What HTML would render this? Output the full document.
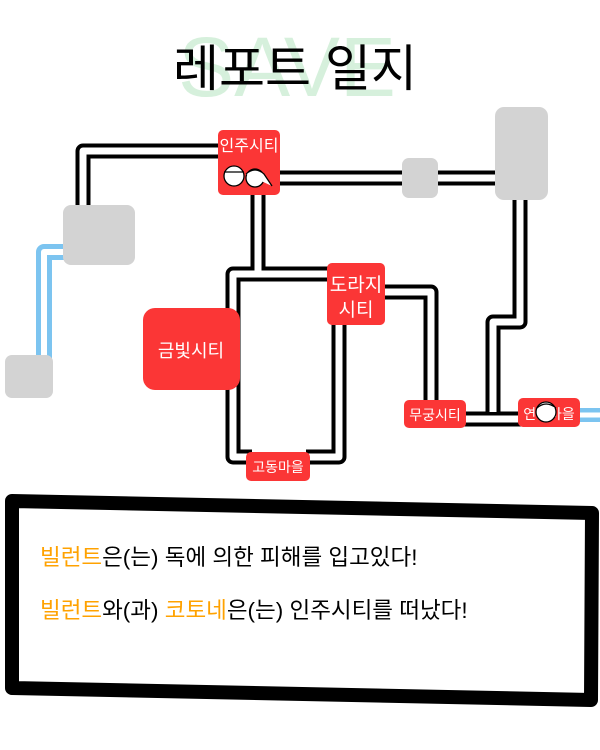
<!DOCTYPE html>
<html><head><meta charset="utf-8"><style>
html,body{margin:0;padding:0;background:#fff;width:600px;height:750px;overflow:hidden}
svg{display:block}
text{font-family:"Liberation Sans","Noto Sans CJK KR",sans-serif}
</style></head><body>
<svg width="600" height="750" viewBox="0 0 600 750" xmlns="http://www.w3.org/2000/svg">
<text x="287" y="96" font-size="84" fill="#d6f0dc" text-anchor="middle" font-family="Liberation Sans, sans-serif">SAVE</text>
<text x="295" y="86" font-size="50" fill="#000" text-anchor="middle">레포트 일지</text>

<g fill="none" stroke-linejoin="round" stroke-linecap="butt">
<path d="M66 252 H44 V360" stroke="#7cc4f0" stroke-width="16"/>
<path d="M66 252 H44 V360" stroke="#fff" stroke-width="6"/>
<path d="M575 415 H600" stroke="#7cc4f0" stroke-width="14"/>
<path d="M575 415 H600" stroke="#fff" stroke-width="5"/>
<g stroke="#000" stroke-width="15">
<path d="M83 212 V151 H222"/>
<path d="M275 178 H500"/>
<path d="M258 192 V274 H233 V457 H252"/>
<path d="M258 274 H332"/>
<path d="M380 292 H431 V402"/>
<path d="M339 322 V457 H306"/>
<path d="M520 196 V322 H493 V419 H522"/>
<path d="M462 419 H495"/>
</g>
<g stroke="#fff" stroke-width="7">
<path d="M83 212 V151 H222"/>
<path d="M275 178 H500"/>
<path d="M258 192 V274 H233 V457 H252"/>
<path d="M258 274 H332"/>
<path d="M380 292 H431 V402"/>
<path d="M339 322 V457 H306"/>
<path d="M520 196 V322 H493 V412"/>
<path d="M462 419 H522"/>
</g>
</g>

<g fill="#d3d3d3">
<rect x="63" y="205" width="72" height="60" rx="8"/>
<rect x="5" y="355" width="48" height="43" rx="7"/>
<rect x="402" y="158" width="36" height="40" rx="7"/>
<rect x="495" y="107" width="53" height="93" rx="9"/>
</g>

<g fill="#fb3636">
<rect x="218" y="130" width="62" height="65" rx="5"/>
<rect x="143" y="308" width="97" height="82" rx="12"/>
<rect x="327" y="263" width="58" height="62" rx="5"/>
<rect x="404" y="400" width="62" height="28" rx="5"/>
<rect x="518" y="398" width="62" height="29" rx="5"/>
<rect x="246" y="452" width="64" height="29" rx="5"/>
</g>
<g fill="#fff" text-anchor="middle">
<text x="249" y="151" font-size="16">인주시티</text>
<text x="191" y="357" font-size="18">금빛시티</text>
<text x="356" y="291" font-size="19">도라지</text>
<text x="356" y="316" font-size="19">시티</text>
<text x="435" y="420" font-size="14">무궁시티</text>
<text x="549" y="419" font-size="14">연두마을</text>
<text x="278" y="472" font-size="14">고동마을</text>
</g>

<g stroke="#000" stroke-width="1.3" fill="#fff">
<circle cx="234" cy="176" r="10"/>
<path d="M224 172 H244"/>
<circle cx="255" cy="178" r="9"/>
<path d="M246 174 Q255 166 264 174 L272 186"/>
<circle cx="546" cy="412" r="10"/>
<path d="M537 408 Q546 400 556 408"/>
</g>

<path d="M12 501 L592 513 L591 700 L12 688 Z" fill="none" stroke="#000" stroke-width="14" stroke-linejoin="round"/>
<g font-size="22.5" fill="#000">
<text x="40" y="565"><tspan fill="#ffa200">빌런트</tspan>은(는) 독에 의한 피해를 입고있다!</text>
<text x="40" y="618"><tspan fill="#ffa200">빌런트</tspan>와(과) <tspan fill="#ffa200">코토네</tspan>은(는) 인주시티를 떠났다!</text>
</g>
</svg>
</body></html>
